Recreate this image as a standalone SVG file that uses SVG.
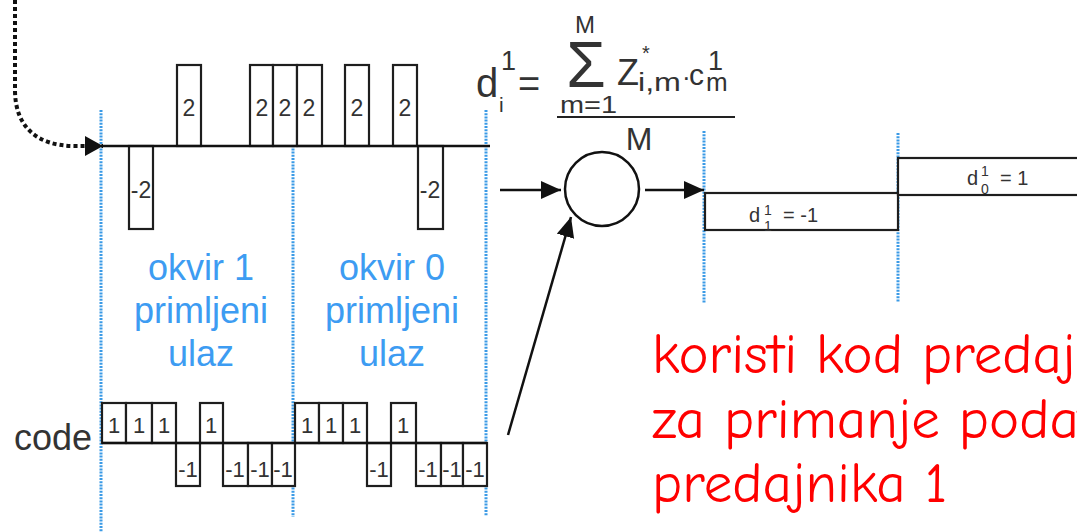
<svg xmlns="http://www.w3.org/2000/svg" width="1077" height="532" viewBox="0 0 1077 532">
  <style>
    .grid { stroke: #3a9ae6; stroke-width: 3; stroke-dasharray: 2 1.2; fill: none; }
    .wave { stroke: #1e1e1e; stroke-width: 2.2; fill: #fff; }
    .line { stroke: #111; stroke-width: 2.5; fill: none; }
    .lbl { font-family: "Liberation Sans", Arial, sans-serif; fill: #333; text-anchor: middle; }
    .math { font-family: "Liberation Sans", Arial, sans-serif; fill: #333; }
    .frame { font-family: "Liberation Sans", Arial, sans-serif; font-size: 36px; fill: #3d9cf2; text-anchor: middle; }
    .note { font-family: "Comic Neue", "Comic Sans MS", "DejaVu Sans", "Liberation Sans", sans-serif; font-size: 57px; fill: #ff0000; }
  </style>
  <defs>
    <marker id="head" markerUnits="userSpaceOnUse" markerWidth="22" markerHeight="20" refX="20" refY="9" orient="auto">
      <path d="M0,0 L20,9 L0,18 Z" fill="#111"/>
    </marker>
    <marker id="headBig" markerUnits="userSpaceOnUse" markerWidth="20" markerHeight="22" refX="18" refY="10" orient="auto">
      <path d="M0,0 L18,10 L0,20 Z" fill="#111"/>
    </marker>
  </defs>
  <rect width="1077" height="532" fill="#fff"/>

  <!-- frame boundaries -->
  <g id="grid-lines">
    <line class="grid" x1="101" y1="110" x2="101" y2="532"/>
    <line class="grid" x1="293" y1="110" x2="293" y2="517"/>
    <line class="grid" x1="486" y1="110" x2="486" y2="516"/>
    <line class="grid" x1="704" y1="131" x2="704" y2="303"/>
    <line class="grid" x1="898" y1="133" x2="898" y2="302"/>
  </g>

  <!-- received signal Z -->
  <g id="received-signal">
    <rect class="wave" x="129" y="146" width="24" height="83"/>
    <rect class="wave" x="177" y="65" width="24" height="81"/>
    <rect class="wave" x="250" y="65" width="23" height="81"/>
    <rect class="wave" x="273" y="65" width="24" height="81"/>
    <rect class="wave" x="297" y="65" width="25" height="81"/>
    <rect class="wave" x="345" y="65" width="24" height="81"/>
    <rect class="wave" x="393" y="65" width="24" height="81"/>
    <rect class="wave" x="418" y="146" width="25" height="83"/>
    <line class="line" x1="101" y1="146" x2="490" y2="146"/>
    <g class="lbl" font-size="23">
      <text x="141" y="198">-2</text>
      <text x="189" y="116">2</text>
      <text x="262" y="116">2</text>
      <text x="285" y="116">2</text>
      <text x="309" y="116">2</text>
      <text x="357" y="116">2</text>
      <text x="405" y="116">2</text>
      <text x="430" y="198">-2</text>
    </g>
  </g>

  <!-- spreading code -->
  <g id="code">
    <text class="math" x="14" y="450" font-size="36">code</text>
    <g class="wave">
      <rect x="102" y="403" width="24" height="40"/>
      <rect x="126" y="403" width="26" height="40"/>
      <rect x="152" y="403" width="24" height="40"/>
      <rect x="176" y="443" width="24" height="43"/>
      <rect x="200" y="403" width="23" height="40"/>
      <rect x="223" y="443" width="25" height="43"/>
      <rect x="248" y="443" width="24" height="43"/>
      <rect x="272" y="443" width="23" height="43"/>
      <rect x="295" y="403" width="24" height="40"/>
      <rect x="319" y="403" width="24" height="40"/>
      <rect x="343" y="403" width="24" height="40"/>
      <rect x="367" y="443" width="24" height="43"/>
      <rect x="391" y="403" width="25" height="40"/>
      <rect x="416" y="443" width="25" height="43"/>
      <rect x="441" y="443" width="22" height="43"/>
      <rect x="463" y="443" width="24" height="43"/>
    </g>
    <line class="line" x1="102" y1="443" x2="487" y2="443"/>
    <g class="lbl" font-size="22">
      <text x="114" y="433">1</text>
      <text x="139" y="433">1</text>
      <text x="164" y="433">1</text>
      <text x="188" y="477">-1</text>
      <text x="211" y="433">1</text>
      <text x="235" y="477">-1</text>
      <text x="260" y="477">-1</text>
      <text x="283" y="477">-1</text>
      <text x="307" y="433">1</text>
      <text x="331" y="433">1</text>
      <text x="355" y="433">1</text>
      <text x="379" y="477">-1</text>
      <text x="403" y="433">1</text>
      <text x="428" y="477">-1</text>
      <text x="452" y="477">-1</text>
      <text x="475" y="477">-1</text>
    </g>
  </g>

  <!-- frame captions -->
  <g id="frame-1">
    <text class="frame" x="201" y="280">okvir 1</text>
    <text class="frame" x="201" y="323">primljeni</text>
    <text class="frame" x="201" y="366">ulaz</text>
  </g>
  <g id="frame-0">
    <text class="frame" x="392" y="280">okvir 0</text>
    <text class="frame" x="392" y="323">primljeni</text>
    <text class="frame" x="392" y="366">ulaz</text>
  </g>

  <!-- despreading formula -->
  <g id="formula" class="math">
    <text x="476" y="97" font-size="40">d</text>
    <text x="501" y="70" font-size="27">1</text>
    <text x="499" y="112" font-size="21">i</text>
    <text x="518" y="97" font-size="38">=</text>
    <text x="585" y="33" font-size="24" text-anchor="middle">M</text>
    <text x="586" y="87" font-size="64" text-anchor="middle">Σ</text>
    <text x="560" y="113" font-size="23" textLength="57" lengthAdjust="spacingAndGlyphs">m=1</text>
    <text x="617" y="85" font-size="36">Z</text>
    <text x="642" y="60" font-size="20">*</text>
    <text x="638" y="91" font-size="26" textLength="43" lengthAdjust="spacingAndGlyphs">i,m</text>
    <text x="682" y="86" font-size="26">·</text>
    <text x="689" y="85" font-size="30">c</text>
    <text x="708" y="70" font-size="27">1</text>
    <text x="706" y="91" font-size="26">m</text>
    <line x1="557" y1="117" x2="735" y2="117" stroke="#222" stroke-width="2"/>
    <text x="639" y="150" font-size="32" text-anchor="middle">M</text>
  </g>

  <!-- summing node -->
  <g id="integrator">
    <circle cx="602" cy="189" r="37" fill="none" stroke="#111" stroke-width="2.5"/>
  </g>

  <!-- recovered data bits -->
  <g id="bit-1">
    <rect class="wave" x="705" y="193" width="193" height="37"/>
    <text class="math" x="749" y="222" font-size="20">d</text>
    <text class="math" x="764" y="215" font-size="14">1</text>
    <text class="math" x="764" y="231" font-size="14">1</text>
    <text class="math" x="783" y="222" font-size="20">= -1</text>
  </g>
  <g id="bit-0">
    <rect class="wave" x="898" y="158" width="190" height="37"/>
    <text class="math" x="967" y="185" font-size="20">d</text>
    <text class="math" x="981" y="176" font-size="14">1</text>
    <text class="math" x="981" y="194" font-size="14">0</text>
    <text class="math" x="1000" y="185" font-size="20">= 1</text>
  </g>

  <!-- connectors -->
  <g id="connectors">
    <path d="M15,0 V90 C15,125 35,146 75,146 H103" fill="none" stroke="#111" stroke-width="4" stroke-dasharray="4 3" marker-end="url(#headBig)"/>
    <line class="line" x1="500" y1="190" x2="561" y2="190" marker-end="url(#head)"/>
    <line class="line" x1="645" y1="190" x2="704" y2="190" marker-end="url(#head)"/>
    <line class="line" x1="508" y1="435" x2="571" y2="217" marker-end="url(#head)"/>
  </g>

  <!-- note -->
  <g id="note">
    <text class="note" x="652" y="373">koristi kod predaj</text>
    <text class="note" x="652" y="438">za primanje podat</text>
    <text class="note" x="652" y="502">predajnika 1</text>
  </g>
</svg>
